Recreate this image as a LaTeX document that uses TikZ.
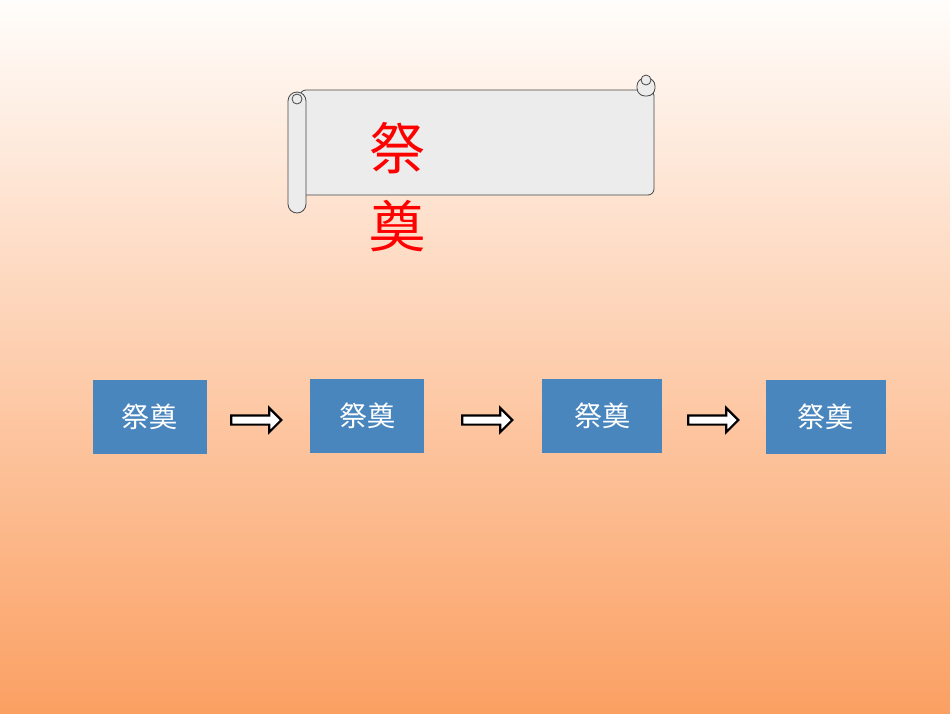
\documentclass[tikz,border=0pt]{standalone}
\usepackage{fontspec}
\newfontfamily\cjk{Noto Sans CJK SC}
\usetikzlibrary{shapes.arrows}
\tikzset{
  glyph/.style={fill=blue!45!cyan!50!black!80, fill={rgb,255:red,74;green,134;blue,190}, minimum width=114pt, minimum height=74pt, inner sep=0pt, text=white, font=\cjk\fontsize{28}{30}\selectfont},
  pointer/.style={single arrow, draw=black, line width=2.2pt, fill=white, minimum width=24pt, single arrow head extend=5pt, minimum height=50pt, inner sep=2pt},
  paper/.style={draw={rgb,255:red,70;green,70;blue,70}, line width=0.8pt, fill={rgb,255:red,236;green,236;blue,236}}
}
\begin{document}
\begin{tikzpicture}[x=1pt,y=-1pt]
\shade[top color={rgb,255:red,255;green,253;blue,251}, bottom color={rgb,255:red,251;green,160;blue,99}] (0,0) rectangle (950,713);
\useasboundingbox (0,0) rectangle (950,713);
% scroll
\draw[paper, rounded corners=6pt] (300,90) rectangle (654,195);
\draw[paper, rounded corners=8pt] (637,78) rectangle (655,96);
\draw[paper] (646,80) circle (5);
\draw[paper, rounded corners=9pt] (288,92) rectangle (306,213);
\draw[paper] (297,99) circle (5);
\node[text=red, font=\cjk\fontsize{56}{60}\selectfont] (t1) at (397,148) {祭};
\node[text=red, font=\cjk\fontsize{56}{60}\selectfont] (t2) at (397,226) {奠};
% boxes
\node[glyph] (g1) at (149.5,416.5) {祭奠};
\node[glyph] (g2) at (367,416) {祭奠};
\node[glyph, minimum width=120pt] (g3) at (602,416) {祭奠};
\node[glyph, minimum width=120pt] (g4) at (825.5,417) {祭奠};
\node[pointer] (a1) at (254,420) {};
\node[pointer] (a2) at (485,420) {};
\node[pointer] (a3) at (711,420) {};
\end{tikzpicture}
\end{document}
